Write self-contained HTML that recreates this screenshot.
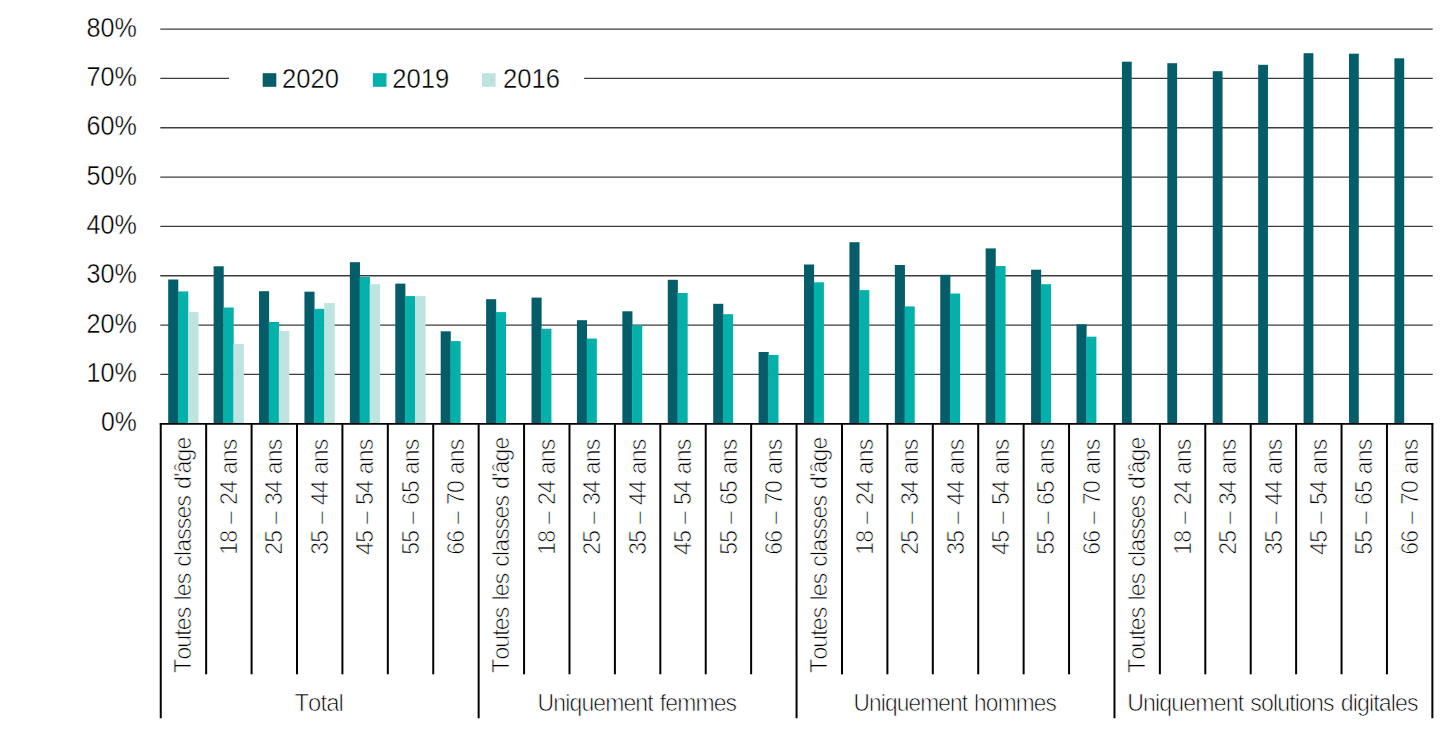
<!DOCTYPE html>
<html><head><meta charset="utf-8"><title>Chart</title>
<style>
html,body{margin:0;padding:0;background:#fff}
svg{display:block}
text{font-family:"Liberation Sans",sans-serif;fill:#000}
.t{stroke:#fff;stroke-width:0.7px;paint-order:fill stroke}
.y{stroke-width:0.4px}
.c{letter-spacing:-0.9px;word-spacing:1.5px;font-kerning:none}
</style></head>
<body>
<svg width="1452" height="734" viewBox="0 0 1452 734">
<rect width="1452" height="734" fill="#fff"/>
<g stroke="#3c3c3c" stroke-width="1.3" fill="none">
<path d="M160.3 29.10H1432.7"/>
<path d="M160.3 78.43H229"/><path d="M584.2 78.43H1432.7"/>
<path d="M160.3 127.76H1432.7"/>
<path d="M160.3 177.09H1432.7"/>
<path d="M160.3 226.42H1432.7"/>
<path d="M160.3 275.75H1432.7"/>
<path d="M160.3 325.08H1432.7"/>
<path d="M160.3 374.41H1432.7"/>
</g>
<g>
<rect x="168.20" y="279.5" width="10.1" height="143.5" fill="#055d69"/><rect x="178.00" y="291.4" width="10.3" height="131.6" fill="#03b1aa"/><rect x="188.00" y="312.1" width="10.5" height="110.9" fill="#bee4e0"/>
<rect x="213.61" y="266.3" width="10.1" height="156.7" fill="#055d69"/><rect x="223.41" y="307.5" width="10.3" height="115.5" fill="#03b1aa"/><rect x="233.41" y="344.0" width="10.5" height="79.0" fill="#bee4e0"/>
<rect x="259.03" y="291.2" width="10.1" height="131.8" fill="#055d69"/><rect x="268.83" y="322.0" width="10.3" height="101.0" fill="#03b1aa"/><rect x="278.83" y="331.0" width="10.5" height="92.0" fill="#bee4e0"/>
<rect x="304.44" y="291.7" width="10.1" height="131.3" fill="#055d69"/><rect x="314.25" y="308.8" width="10.3" height="114.2" fill="#03b1aa"/><rect x="324.25" y="303.1" width="10.5" height="119.9" fill="#bee4e0"/>
<rect x="349.86" y="262.2" width="10.1" height="160.8" fill="#055d69"/><rect x="359.66" y="276.9" width="10.3" height="146.1" fill="#03b1aa"/><rect x="369.66" y="284.2" width="10.5" height="138.8" fill="#bee4e0"/>
<rect x="395.27" y="283.6" width="10.1" height="139.4" fill="#055d69"/><rect x="405.07" y="296.1" width="10.3" height="126.9" fill="#03b1aa"/><rect x="415.07" y="296.1" width="10.5" height="126.9" fill="#bee4e0"/>
<rect x="440.69" y="331.3" width="10.1" height="91.7" fill="#055d69"/><rect x="450.49" y="341.1" width="10.1" height="81.9" fill="#03b1aa"/>
<rect x="486.10" y="299.2" width="10.1" height="123.8" fill="#055d69"/><rect x="495.90" y="312.1" width="10.1" height="110.9" fill="#03b1aa"/>
<rect x="531.52" y="297.6" width="10.1" height="125.4" fill="#055d69"/><rect x="541.32" y="328.7" width="10.1" height="94.3" fill="#03b1aa"/>
<rect x="576.93" y="320.2" width="10.1" height="102.8" fill="#055d69"/><rect x="586.73" y="338.5" width="10.1" height="84.5" fill="#03b1aa"/>
<rect x="622.35" y="311.3" width="10.1" height="111.7" fill="#055d69"/><rect x="632.15" y="325.3" width="10.1" height="97.7" fill="#03b1aa"/>
<rect x="667.76" y="279.8" width="10.1" height="143.2" fill="#055d69"/><rect x="677.56" y="293.0" width="10.1" height="130.0" fill="#03b1aa"/>
<rect x="713.18" y="303.8" width="10.1" height="119.2" fill="#055d69"/><rect x="722.98" y="314.2" width="10.1" height="108.8" fill="#03b1aa"/>
<rect x="758.60" y="352.0" width="10.1" height="71.0" fill="#055d69"/><rect x="768.39" y="354.9" width="10.1" height="68.1" fill="#03b1aa"/>
<rect x="804.01" y="264.5" width="10.1" height="158.5" fill="#055d69"/><rect x="813.81" y="282.3" width="10.1" height="140.7" fill="#03b1aa"/>
<rect x="849.42" y="242.2" width="10.1" height="180.8" fill="#055d69"/><rect x="859.22" y="290.1" width="10.1" height="132.9" fill="#03b1aa"/>
<rect x="894.84" y="265.0" width="10.1" height="158.0" fill="#055d69"/><rect x="904.64" y="306.4" width="10.1" height="116.6" fill="#03b1aa"/>
<rect x="940.25" y="274.8" width="10.1" height="148.2" fill="#055d69"/><rect x="950.05" y="293.5" width="10.1" height="129.5" fill="#03b1aa"/>
<rect x="985.67" y="248.4" width="10.1" height="174.6" fill="#055d69"/><rect x="995.47" y="266.0" width="10.1" height="157.0" fill="#03b1aa"/>
<rect x="1031.09" y="269.7" width="10.1" height="153.3" fill="#055d69"/><rect x="1040.88" y="284.2" width="10.1" height="138.8" fill="#03b1aa"/>
<rect x="1076.50" y="324.3" width="10.1" height="98.7" fill="#055d69"/><rect x="1086.30" y="336.7" width="10.1" height="86.3" fill="#03b1aa"/>
<rect x="1121.91" y="61.7" width="9.8" height="361.3" fill="#055d69"/>
<rect x="1167.33" y="63.2" width="9.8" height="359.8" fill="#055d69"/>
<rect x="1212.75" y="71.2" width="9.8" height="351.8" fill="#055d69"/>
<rect x="1258.16" y="64.8" width="9.8" height="358.2" fill="#055d69"/>
<rect x="1303.58" y="53.2" width="9.8" height="369.8" fill="#055d69"/>
<rect x="1348.99" y="53.7" width="9.8" height="369.3" fill="#055d69"/>
<rect x="1394.40" y="58.3" width="9.8" height="364.7" fill="#055d69"/>
</g>
<g stroke="#000" stroke-width="2" fill="none">
<path d="M159.75 423.85H1433.37" stroke-width="1.8"/>
<path d="M160.75 423.5V718.3"/><path d="M206.16 423.5V674.3"/><path d="M251.58 423.5V674.3"/><path d="M297.00 423.5V674.3"/><path d="M342.41 423.5V674.3"/><path d="M387.82 423.5V674.3"/><path d="M433.24 423.5V674.3"/><path d="M478.65 423.5V718.3"/><path d="M524.07 423.5V674.3"/><path d="M569.49 423.5V674.3"/><path d="M614.90 423.5V674.3"/><path d="M660.32 423.5V674.3"/><path d="M705.73 423.5V674.3"/><path d="M751.14 423.5V674.3"/><path d="M796.56 423.5V718.3"/><path d="M841.98 423.5V674.3"/><path d="M887.39 423.5V674.3"/><path d="M932.80 423.5V674.3"/><path d="M978.22 423.5V674.3"/><path d="M1023.63 423.5V674.3"/><path d="M1069.05 423.5V674.3"/><path d="M1114.47 423.5V718.3"/><path d="M1159.88 423.5V674.3"/><path d="M1205.30 423.5V674.3"/><path d="M1250.71 423.5V674.3"/><path d="M1296.12 423.5V674.3"/><path d="M1341.54 423.5V674.3"/><path d="M1386.95 423.5V674.3"/><path d="M1432.37 423.5V718.3"/>
</g>
<g class="t y" font-size="27.3" text-anchor="end">
<text x="136.8" y="36.7" textLength="50.3" lengthAdjust="spacingAndGlyphs">80%</text>
<text x="136.8" y="86.0" textLength="50.3" lengthAdjust="spacingAndGlyphs">70%</text>
<text x="136.8" y="135.4" textLength="50.3" lengthAdjust="spacingAndGlyphs">60%</text>
<text x="136.8" y="184.7" textLength="50.3" lengthAdjust="spacingAndGlyphs">50%</text>
<text x="136.8" y="234.0" textLength="50.3" lengthAdjust="spacingAndGlyphs">40%</text>
<text x="136.8" y="283.4" textLength="50.3" lengthAdjust="spacingAndGlyphs">30%</text>
<text x="136.8" y="332.7" textLength="50.3" lengthAdjust="spacingAndGlyphs">20%</text>
<text x="136.8" y="382.0" textLength="50.3" lengthAdjust="spacingAndGlyphs">10%</text>
<text x="136.8" y="431.3" textLength="35.8" lengthAdjust="spacingAndGlyphs">0%</text>
</g>
<rect x="262.7" y="73.2" width="13.6" height="13.6" fill="#055d69"/><rect x="372.9" y="73.2" width="13.6" height="13.6" fill="#03b1aa"/><rect x="482.0" y="73.2" width="13.6" height="13.6" fill="#bee4e0"/>
<g class="t y" font-size="27.3">
<text x="282.0" y="87.6" textLength="57.0" lengthAdjust="spacingAndGlyphs">2020</text>
<text x="392.2" y="87.6" textLength="57.0" lengthAdjust="spacingAndGlyphs">2019</text>
<text x="502.9" y="87.6" textLength="57.0" lengthAdjust="spacingAndGlyphs">2016</text>
</g>
<g class="t c" font-size="24.3" text-anchor="end">
<text transform="translate(191.06 437.6) rotate(-90)" textLength="235.2" lengthAdjust="spacingAndGlyphs">Toutes les classes d'âge</text>
<text transform="translate(236.97 439.6) rotate(-90)" textLength="115.2" lengthAdjust="spacingAndGlyphs">18 – 24 ans</text>
<text transform="translate(282.39 439.6) rotate(-90)" textLength="115.2" lengthAdjust="spacingAndGlyphs">25 – 34 ans</text>
<text transform="translate(327.80 439.6) rotate(-90)" textLength="115.2" lengthAdjust="spacingAndGlyphs">35 – 44 ans</text>
<text transform="translate(373.22 439.6) rotate(-90)" textLength="115.2" lengthAdjust="spacingAndGlyphs">45 – 54 ans</text>
<text transform="translate(418.63 439.6) rotate(-90)" textLength="115.2" lengthAdjust="spacingAndGlyphs">55 – 65 ans</text>
<text transform="translate(464.05 439.6) rotate(-90)" textLength="115.2" lengthAdjust="spacingAndGlyphs">66 – 70 ans</text>
<text transform="translate(508.96 437.6) rotate(-90)" textLength="235.2" lengthAdjust="spacingAndGlyphs">Toutes les classes d'âge</text>
<text transform="translate(554.88 439.6) rotate(-90)" textLength="115.2" lengthAdjust="spacingAndGlyphs">18 – 24 ans</text>
<text transform="translate(600.29 439.6) rotate(-90)" textLength="115.2" lengthAdjust="spacingAndGlyphs">25 – 34 ans</text>
<text transform="translate(645.71 439.6) rotate(-90)" textLength="115.2" lengthAdjust="spacingAndGlyphs">35 – 44 ans</text>
<text transform="translate(691.12 439.6) rotate(-90)" textLength="115.2" lengthAdjust="spacingAndGlyphs">45 – 54 ans</text>
<text transform="translate(736.54 439.6) rotate(-90)" textLength="115.2" lengthAdjust="spacingAndGlyphs">55 – 65 ans</text>
<text transform="translate(781.95 439.6) rotate(-90)" textLength="115.2" lengthAdjust="spacingAndGlyphs">66 – 70 ans</text>
<text transform="translate(826.87 437.6) rotate(-90)" textLength="235.2" lengthAdjust="spacingAndGlyphs">Toutes les classes d'âge</text>
<text transform="translate(872.78 439.6) rotate(-90)" textLength="115.2" lengthAdjust="spacingAndGlyphs">18 – 24 ans</text>
<text transform="translate(918.20 439.6) rotate(-90)" textLength="115.2" lengthAdjust="spacingAndGlyphs">25 – 34 ans</text>
<text transform="translate(963.61 439.6) rotate(-90)" textLength="115.2" lengthAdjust="spacingAndGlyphs">35 – 44 ans</text>
<text transform="translate(1009.03 439.6) rotate(-90)" textLength="115.2" lengthAdjust="spacingAndGlyphs">45 – 54 ans</text>
<text transform="translate(1054.44 439.6) rotate(-90)" textLength="115.2" lengthAdjust="spacingAndGlyphs">55 – 65 ans</text>
<text transform="translate(1099.86 439.6) rotate(-90)" textLength="115.2" lengthAdjust="spacingAndGlyphs">66 – 70 ans</text>
<text transform="translate(1144.77 437.6) rotate(-90)" textLength="235.2" lengthAdjust="spacingAndGlyphs">Toutes les classes d'âge</text>
<text transform="translate(1190.69 439.6) rotate(-90)" textLength="115.2" lengthAdjust="spacingAndGlyphs">18 – 24 ans</text>
<text transform="translate(1236.10 439.6) rotate(-90)" textLength="115.2" lengthAdjust="spacingAndGlyphs">25 – 34 ans</text>
<text transform="translate(1281.52 439.6) rotate(-90)" textLength="115.2" lengthAdjust="spacingAndGlyphs">35 – 44 ans</text>
<text transform="translate(1326.93 439.6) rotate(-90)" textLength="115.2" lengthAdjust="spacingAndGlyphs">45 – 54 ans</text>
<text transform="translate(1372.35 439.6) rotate(-90)" textLength="115.2" lengthAdjust="spacingAndGlyphs">55 – 65 ans</text>
<text transform="translate(1417.76 439.6) rotate(-90)" textLength="115.2" lengthAdjust="spacingAndGlyphs">66 – 70 ans</text>
</g>
<g class="t c" font-size="24.3" text-anchor="middle">
<text x="318.70" y="711" textLength="48.6" lengthAdjust="spacingAndGlyphs">Total</text>
<text x="636.91" y="711" textLength="198.6" lengthAdjust="spacingAndGlyphs">Uniquement femmes</text>
<text x="954.71" y="711" textLength="202.6" lengthAdjust="spacingAndGlyphs">Uniquement hommes</text>
<text x="1272.52" y="711" textLength="290.6" lengthAdjust="spacingAndGlyphs">Uniquement solutions digitales</text>
</g>
</svg>
</body></html>
